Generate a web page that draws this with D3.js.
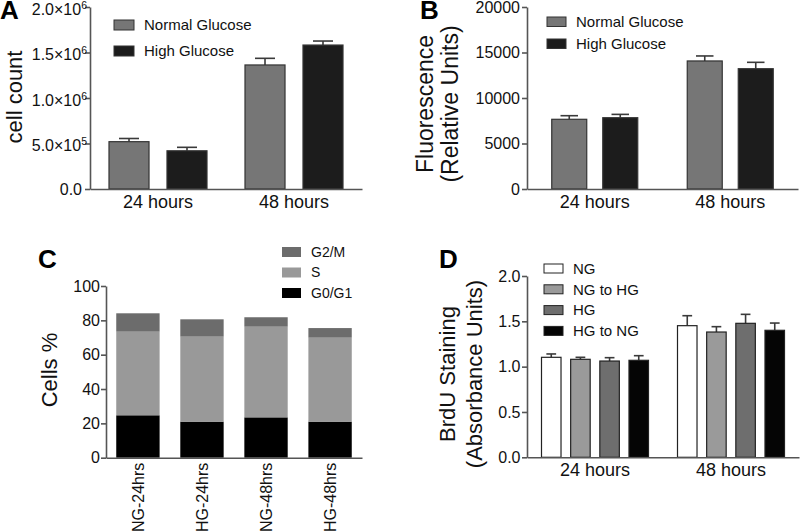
<!DOCTYPE html>
<html>
<head>
<meta charset="utf-8">
<script src="https://cdnjs.cloudflare.com/ajax/libs/d3/7.8.5/d3.min.js"></script>
<style>
  html, body { margin: 0; padding: 0; background: #fff; }
  svg { display: block; font-family: "Liberation Sans", Arial, sans-serif; }
</style>
</head>
<body>
<svg id="chart" width="800" height="532"></svg>
<script>
// ---------- DATA ----------
const timeCats = ["24 hours", "48 hours"];
const glucoseSeries = ["Normal Glucose", "High Glucose"];

// Panel A: cell count
const cellNG = [520000, 1363000];
const cellNGErr = [35000, 73000];
const cellHG = [420000, 1582000];
const cellHGErr = [38000, 44000];
const cellTicks = [0, 500000, 1000000, 1500000, 2000000];
const cellTickBase = ["0.0", "5.0×10", "1.0×10", "1.5×10", "2.0×10"];
const cellTickExp = ["", "5", "6", "6", "6"];

// Panel B: fluorescence
const fluoNG = [7660, 14070];
const fluoNGErr = [395, 550];
const fluoHG = [7835, 13220];
const fluoHGErr = [365, 700];
const fluoTicks = [0, 5000, 10000, 15000, 20000];

// Panel C: cell cycle
const cycleCats = ["NG-24hrs", "HG-24hrs", "NG-48hrs", "HG-48hrs"];
const phaseNames = ["G0/G1", "S", "G2/M"];
const g0g1 = [24.7, 21.0, 23.5, 21.0];
const sPhase = [48.7, 49.5, 52.8, 48.9];
const g2m = [10.7, 10.1, 5.5, 5.6];
const cycleTicks = [0, 20, 40, 60, 80, 100];

// Panel D: BrdU
const brduSeries = ["NG", "NG to HG", "HG", "HG to NG"];
const brdu24 = [1.103, 1.081, 1.062, 1.070];
const brdu24Err = [0.037, 0.022, 0.037, 0.051];
const brdu48 = [1.452, 1.382, 1.478, 1.401];
const brdu48Err = [0.110, 0.059, 0.099, 0.080];
const brduTicks = [0, 0.5, 1.0, 1.5, 2.0];

// ---------- STYLE ----------
const AXIS = "#555";
const ERR = "#3a3a3a";
const glucoseColors = ["#767676", "#1c1c1c"];
const phaseColors = ["#000000", "#999999", "#6c6c6c"];
const brduColors = ["#ffffff", "#9a9a9a", "#6e6e6e", "#050505"];

const svg = d3.select("#chart");

function styleAxis(g, fs) {
  g.selectAll("path.domain").attr("stroke", AXIS).attr("stroke-width", 1.6);
  g.selectAll(".tick line").attr("stroke", AXIS).attr("stroke-width", 1.6);
  g.selectAll(".tick text").attr("fill", "#111").attr("font-size", fs)
    .attr("font-family", "Liberation Sans, Arial, sans-serif");
}

function yAxis(scale, x, ticks, fmt, pad) {
  const g = svg.append("g").attr("transform", `translate(${x},0)`)
    .call(d3.axisLeft(scale).tickValues(ticks).tickFormat(fmt).tickSize(5).tickPadding(pad).tickSizeOuter(0));
  styleAxis(g, 16);
  return g;
}

function xAxis(scale, y) {
  const g = svg.append("g").attr("transform", `translate(0,${y})`)
    .call(d3.axisBottom(scale).tickSize(0).tickPadding(6).tickSizeOuter(0));
  styleAxis(g, 18);
  return g;
}

function yTitle(lines, x0, cy, fs, lh) {
  lines.forEach((t, i) => {
    svg.append("text")
      .attr("transform", `translate(${x0 + i * lh},${cy}) rotate(-90)`)
      .attr("text-anchor", "middle")
      .attr("font-size", fs).attr("fill", "#111")
      .text(t);
  });
}

function panelLetter(t, x, y) {
  svg.append("text").attr("x", x).attr("y", y)
    .attr("font-size", 26).attr("font-weight", "bold").attr("fill", "#000").text(t);
}

function legend(names, colors, x, y0, step, w, h, fs, stroke) {
  names.forEach((n, i) => {
    const y = y0 + i * step;
    svg.append("rect").attr("x", x).attr("y", y).attr("width", w).attr("height", h)
      .attr("fill", colors[i]).attr("stroke", stroke).attr("stroke-width", 1);
    svg.append("text").attr("x", x + w + 10).attr("y", y + h / 2).attr("dy", "0.35em")
      .attr("font-size", fs).attr("fill", "#111").text(n);
  });
}

function groupedBars(xBand, sub, yScale, seriesVals, seriesErrs, colors, stroke) {
  seriesVals.forEach((vals, si) => {
    vals.forEach((v, ci) => {
      const cx = xBand(timeCats[ci]) + xBand.bandwidth() / 2;
      const x = cx + sub(sub.domain()[si]);
      const w = sub.bandwidth();
      const top = yScale(v);
      const errTop = yScale(v + seriesErrs[si][ci]);
      // error bar (upper only)
      svg.append("line").attr("x1", x + w / 2).attr("x2", x + w / 2)
        .attr("y1", top).attr("y2", errTop).attr("stroke", ERR).attr("stroke-width", 1.6);
      svg.append("line").attr("x1", x + w / 4).attr("x2", x + 3 * w / 4)
        .attr("y1", errTop).attr("y2", errTop).attr("stroke", ERR).attr("stroke-width", 1.6);
      svg.append("rect").attr("x", x).attr("y", top).attr("width", w)
        .attr("height", yScale(0) - top)
        .attr("fill", colors[si]).attr("stroke", stroke).attr("stroke-width", 1.2);
    });
  });
}

// ---------- PANEL A ----------
{
  const y = d3.scaleLinear().domain([0, 2000000]).range([189, 7]);
  const x = d3.scaleBand().domain(timeCats).range([90, 362]);
  const sub = d3.scaleBand().domain(glucoseSeries).range([-49, 49]).paddingInner(0.31);
  groupedBars(x, sub, y, [cellNG, cellHG], [cellNGErr, cellHGErr], glucoseColors, "#333");
  const g = yAxis(y, 90, cellTicks, "", 3);
  g.selectAll(".tick text").each(function (d, i) {
    const t = d3.select(this).text(null);
    if (cellTickExp[i]) {
      t.attr("x", -3).attr("dy", "0.45em");
      t.append("tspan").text(cellTickBase[i]);
      t.append("tspan").attr("font-size", 10.5).attr("dy", -6).text(cellTickExp[i]);
    } else {
      t.attr("x", -8);
      t.append("tspan").text(cellTickBase[i]);
    }
  });
  xAxis(x, 189);
  legend(glucoseSeries, glucoseColors, 114, 20, 26, 20, 10, 15, "#333");
  yTitle(["cell count"], 22, 97, 22, 0);
  panelLetter("A", 0, 19);
}

// ---------- PANEL B ----------
{
  const y = d3.scaleLinear().domain([0, 20000]).range([189, 7]);
  const x = d3.scaleBand().domain(timeCats).range([527, 798]);
  const sub = d3.scaleBand().domain(glucoseSeries).range([-43, 43]).paddingInner(0.314);
  groupedBars(x, sub, y, [fluoNG, fluoHG], [fluoNGErr, fluoHGErr], glucoseColors, "#333");
  yAxis(y, 527, fluoTicks, d3.format("d"), 2);
  xAxis(x, 189);
  legend(glucoseSeries, glucoseColors, 547, 17, 22, 19, 9.5, 15, "#333");
  yTitle(["Fluorescence", "(Relative Units)"], 433, 104, 23, 25);
  panelLetter("B", 420, 19);
}

// ---------- PANEL C ----------
{
  const y = d3.scaleLinear().domain([0, 100]).range([457.7, 286]);
  const x = d3.scaleBand().domain(cycleCats).range([106, 362]).paddingInner(0.323).paddingOuter(0.16);
  const layers = [g0g1, sPhase, g2m];
  cycleCats.forEach((c, i) => {
    let base = 0;
    layers.forEach((arr, li) => {
      const v = arr[i];
      svg.append("rect").attr("x", x(c)).attr("width", x.bandwidth())
        .attr("y", y(base + v)).attr("height", y(base) - y(base + v))
        .attr("fill", phaseColors[li]);
      base += v;
    });
  });
  yAxis(y, 106, cycleTicks, d3.format("d"), 1);
  const g = xAxis(x, 457.7);
  g.selectAll(".tick text")
    .attr("transform", "rotate(-90)")
    .attr("text-anchor", "end")
    .attr("x", -5).attr("y", 0).attr("dy", "0.35em")
    .attr("font-size", 16);
  legend(["G2/M", "S", "G0/G1"], [phaseColors[2], phaseColors[1], phaseColors[0]], 282, 247, 20.5, 19, 10, 14, "none");
  yTitle(["Cells %"], 57, 370, 22, 0);
  panelLetter("C", 38, 268);
}

// ---------- PANEL D ----------
{
  const y = d3.scaleLinear().domain([0, 2]).range([457.3, 276]);
  const x = d3.scaleBand().domain(timeCats).range([527, 799]);
  const sub = d3.scaleBand().domain(brduSeries).range([-53.5, 53.5]).paddingInner(0.331);
  const vals = brduSeries.map((s, i) => [brdu24[i], brdu48[i]]);
  const errs = brduSeries.map((s, i) => [brdu24Err[i], brdu48Err[i]]);
  groupedBars(x, sub, y, vals, errs, brduColors, "#222");
  yAxis(y, 527, brduTicks, d3.format(".1f"), 1.5);
  xAxis(x, 457.3);
  legend(brduSeries, brduColors, 544, 264, 20.8, 19, 9, 15, "#222");
  yTitle(["BrdU Staining", "(Absorbance Units)"], 455, 374, 22, 27);
  panelLetter("D", 439, 268);
}
</script>
</body>
</html>
